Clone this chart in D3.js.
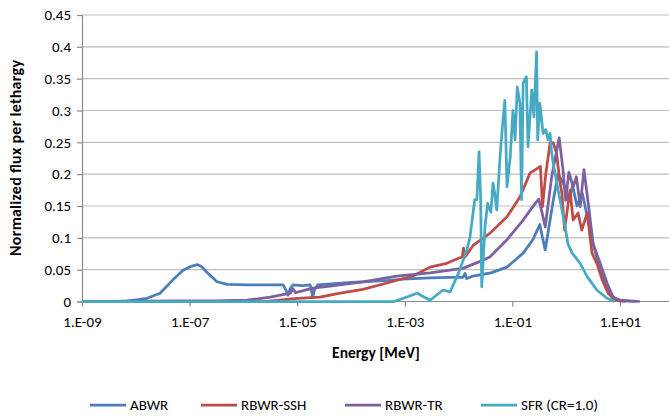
<!DOCTYPE html>
<html>
<head>
<meta charset="utf-8">
<script src="https://cdn.jsdelivr.net/npm/d3@7"></script>
<style>
  body { margin: 0; background: #fff; }
  text { font-family: Carlito, Calibri, Lato, "Open Sans", sans-serif; fill: #000; }
</style>
</head>
<body>
<svg id="chart" width="669" height="417"></svg>
<script>
// log10(E [MeV]) and flux per lethargy

var abwrLogE = [-9, -8.4, -8.16, -7.95, -7.79, -7.55, -7.31, -7.12, -6.98, -6.86, -6.78, -6.68, -6.49, -6.3, -5.93, -5.6, -5.26,
    -5.21, -5.17, -5.13, -5.08, -4.9, -4.76, -4.73, -4.71, -4.68, -4.62, -4.3, -4.0, -3.78, -3.3, -3.03, -2.53, -2.2,
    -1.92, -1.88, -1.85, -1.73, -1.4, -1.1, -0.8, -0.62, -0.49, -0.44, -0.39, -0.24, -0.15, -0.05, 0.05, 0.12, 0.2, 0.3, 0.4,
    0.5, 0.6, 0.7, 0.8, 0.9, 1.0, 1.3];
var abwrFlux = [0, 0, 0.001, 0.003, 0.005, 0.013, 0.034, 0.049, 0.055, 0.058, 0.055, 0.046, 0.031, 0.027, 0.026, 0.026, 0.026,
    0.018, 0.01, 0.02, 0.026, 0.025, 0.026, 0.016, 0.007, 0.018, 0.026, 0.028, 0.03, 0.031, 0.033, 0.035, 0.037, 0.038,
    0.038, 0.044, 0.036, 0.04, 0.045, 0.054, 0.076, 0.097, 0.121, 0.1, 0.081, 0.159, 0.2, 0.185, 0.16, 0.182, 0.15, 0.17, 0.13,
    0.09, 0.06, 0.035, 0.015, 0.004, 0.001, 0];

var ssshLogE = [-9, -5.6, -5.0, -4.58, -4.2, -3.78, -3.33, -2.85, -2.53, -2.22, -2.0, -1.93, -1.91,
    -1.88, -1.73, -1.42, -1.1, -0.86, -0.67, -0.52, -0.48, -0.44, -0.38, -0.3, -0.24, -0.18, -0.12, -0.08, -0.03, 0.07, 0.13,
    0.22, 0.29, 0.39, 0.48, 0.57, 0.67, 0.78, 0.91, 1.1];
var ssshFlux = [0, 0, 0.005, 0.007, 0.013, 0.019, 0.029, 0.04, 0.054, 0.06, 0.068, 0.07, 0.084,
    0.07, 0.088, 0.107, 0.133, 0.164, 0.202, 0.21, 0.212, 0.149, 0.2, 0.249, 0.249, 0.233, 0.19, 0.17, 0.112, 0.175, 0.128,
    0.139, 0.112, 0.139, 0.076, 0.06, 0.034, 0.013, 0.002, 0];

var rbwrTrLogE = [-9, -7.2, -6.5, -5.93, -5.5, -5.13, -5.08, -5.03, -4.71, -4.39, -3.78, -3.15, -2.53, -1.92, -1.6,
    -1.42, -1.1, -0.8, -0.62, -0.51, -0.45, -0.39, -0.27, -0.13, -0.06, -0.01, 0.05, 0.13, 0.19, 0.26, 0.33, 0.41, 0.5, 0.63,
    0.76, 0.87, 1.0, 1.37];
var rbwrTrFlux = [0, 0.001, 0.001, 0.002, 0.007, 0.013, 0.02, 0.014, 0.021, 0.024, 0.031, 0.04, 0.045, 0.052,
    0.063, 0.07, 0.097, 0.128, 0.149, 0.161, 0.14, 0.117, 0.196, 0.257, 0.207, 0.159, 0.203, 0.18, 0.196, 0.149, 0.207, 0.154,
    0.091, 0.06, 0.029, 0.007, 0.002, 0];

var sfrLogE = [-9, -3.2, -3.0, -2.77, -2.53, -2.29, -2.16, -2.0, -1.85, -1.79, -1.7, -1.66, -1.62, -1.59, -1.57,
    -1.51, -1.46, -1.4, -1.36, -1.33, -1.29, -1.23, -1.18, -1.14, -1.1, -1.04, -0.99, -0.95, -0.91, -0.86, -0.83, -0.8, -0.74,
    -0.71, -0.64, -0.6, -0.55, -0.53, -0.49, -0.43, -0.38, -0.34, -0.3, -0.27, -0.22, -0.15, -0.08, -0.03, 0.03, 0.11, 0.26,
    0.39, 0.57, 0.76, 0.9];
var sfrFlux = [0, 0, 0.006, 0.013, 0.002, 0.018, 0.015, 0.045, 0.08, 0.1, 0.16, 0.16, 0.235, 0.16, 0.023,
    0.117, 0.154, 0.14, 0.186, 0.17, 0.144, 0.227, 0.28, 0.316, 0.18, 0.227, 0.3, 0.254, 0.337, 0.311, 0.16, 0.343, 0.353,
    0.243, 0.332, 0.29, 0.392, 0.254, 0.311, 0.264, 0.27, 0.254, 0.264, 0.233, 0.207, 0.175, 0.144, 0.123, 0.091, 0.076, 0.06,
    0.039, 0.018, 0.005, 0];

var seriesNames = ['ABWR', 'RBWR-SSH', 'RBWR-TR', 'SFR (CR=1.0)'];
var seriesColors = ['#4a7ebb', '#be4b48', '#7d60a0', '#46aac5'];
var yTicks = [0, 0.05, 0.1, 0.15, 0.2, 0.25, 0.3, 0.35, 0.4, 0.45];
var xTicks = [1e-9, 1e-7, 1e-5, 1e-3, 1e-1, 1e1];
var xTickLabels = ['1.E-09', '1.E-07', '1.E-05', '1.E-03', '1.E-01', '1.E+01'];

(function() {

    var series = [
        { logE: abwrLogE, flux: abwrFlux },
        { logE: ssshLogE, flux: ssshFlux },
        { logE: rbwrTrLogE, flux: rbwrTrFlux },
        { logE: sfrLogE, flux: sfrFlux }
    ].map(function(s, i) {
        return {
            name: seriesNames[i],
            color: seriesColors[i],
            points: s.logE.map(function(l, j) { return [Math.pow(10, l), s.flux[j]]; })
        };
    });

    var svg = d3.select('#chart');
    var plotLeft = 82, plotRight = 669, plotTop = 15, plotBottom = 301.5;

    var x = d3.scaleLog()
        .domain([1e-9, 1e3])
        .range([plotLeft, plotLeft + 12 * 53.8]);

    var y = d3.scaleLinear()
        .domain([0, 0.45])
        .range([plotBottom, plotTop]);

    // gridlines
    svg.append('g')
        .selectAll('line')
        .data(yTicks.slice(1))
        .enter().append('line')
        .attr('x1', plotLeft)
        .attr('x2', plotRight)
        .attr('y1', function(d) { return y(d); })
        .attr('y2', function(d) { return y(d); })
        .attr('stroke', '#bebebe')
        .attr('stroke-width', 1.2);

    // y axis
    var yAxis = svg.append('g')
        .attr('transform', 'translate(' + plotLeft + ',0)')
        .call(d3.axisLeft(y).tickValues(yTicks).tickSize(5).tickPadding(6)
            .tickFormat(function(d) { return String(+d.toFixed(2)); }));
    yAxis.select('.domain').attr('stroke', '#8c8c8c').attr('stroke-width', 1.2);
    yAxis.selectAll('.tick line').attr('stroke', '#8c8c8c').attr('stroke-width', 1.2);
    yAxis.selectAll('text').style('font-size', '15px').attr('fill', '#000');

    // x axis
    var xAxis = svg.append('g')
        .attr('transform', 'translate(0,' + plotBottom + ')')
        .call(d3.axisBottom(x).tickValues(xTicks).tickSize(5).tickPadding(10)
            .tickFormat(function(d, i) { return xTickLabels[i]; }));
    xAxis.select('.domain').attr('stroke', '#8c8c8c').attr('stroke-width', 1.2)
        .attr('d', 'M' + plotLeft + ',0H' + plotRight);
    xAxis.selectAll('.tick line').attr('stroke', '#8c8c8c').attr('stroke-width', 1.2);
    xAxis.selectAll('text').style('font-size', '15px').attr('fill', '#000');

    // series
    var line = d3.line()
        .x(function(d) { return x(d[0]); })
        .y(function(d) { return y(d[1]); });

    svg.append('g')
        .selectAll('path')
        .data(series)
        .enter().append('path')
        .attr('d', function(d) { return line(d.points); })
        .attr('fill', 'none')
        .attr('stroke', function(d) { return d.color; })
        .attr('stroke-width', 2.75)
        .attr('stroke-linejoin', 'round');

    // axis titles
    svg.append('text')
        .attr('x', 376)
        .attr('y', 358)
        .attr('text-anchor', 'middle')
        .style('font-size', '15.5px')
        .style('font-weight', 'bold')
        .text('Energy [MeV]');

    svg.append('text')
        .attr('transform', 'translate(21,158) rotate(-90)')
        .attr('text-anchor', 'middle')
        .attr('textLength', 196)
        .attr('lengthAdjust', 'spacing')
        .style('font-size', '16px')
        .style('font-weight', 'bold')
        .text('Normalized flux per lethargy');

    // legend
    var legendX = [90, 201, 345, 481];
    var legend = svg.append('g')
        .selectAll('g')
        .data(series)
        .enter().append('g')
        .attr('transform', function(d, i) { return 'translate(' + legendX[i] + ',405)'; });

    legend.append('line')
        .attr('x1', 0)
        .attr('x2', 36)
        .attr('stroke', function(d) { return d.color; })
        .attr('stroke-width', 2.75);

    legend.append('text')
        .attr('x', 40)
        .attr('y', 5)
        .style('font-size', '15px')
        .text(function(d) { return d.name; });
})();
</script>
</body>
</html>
